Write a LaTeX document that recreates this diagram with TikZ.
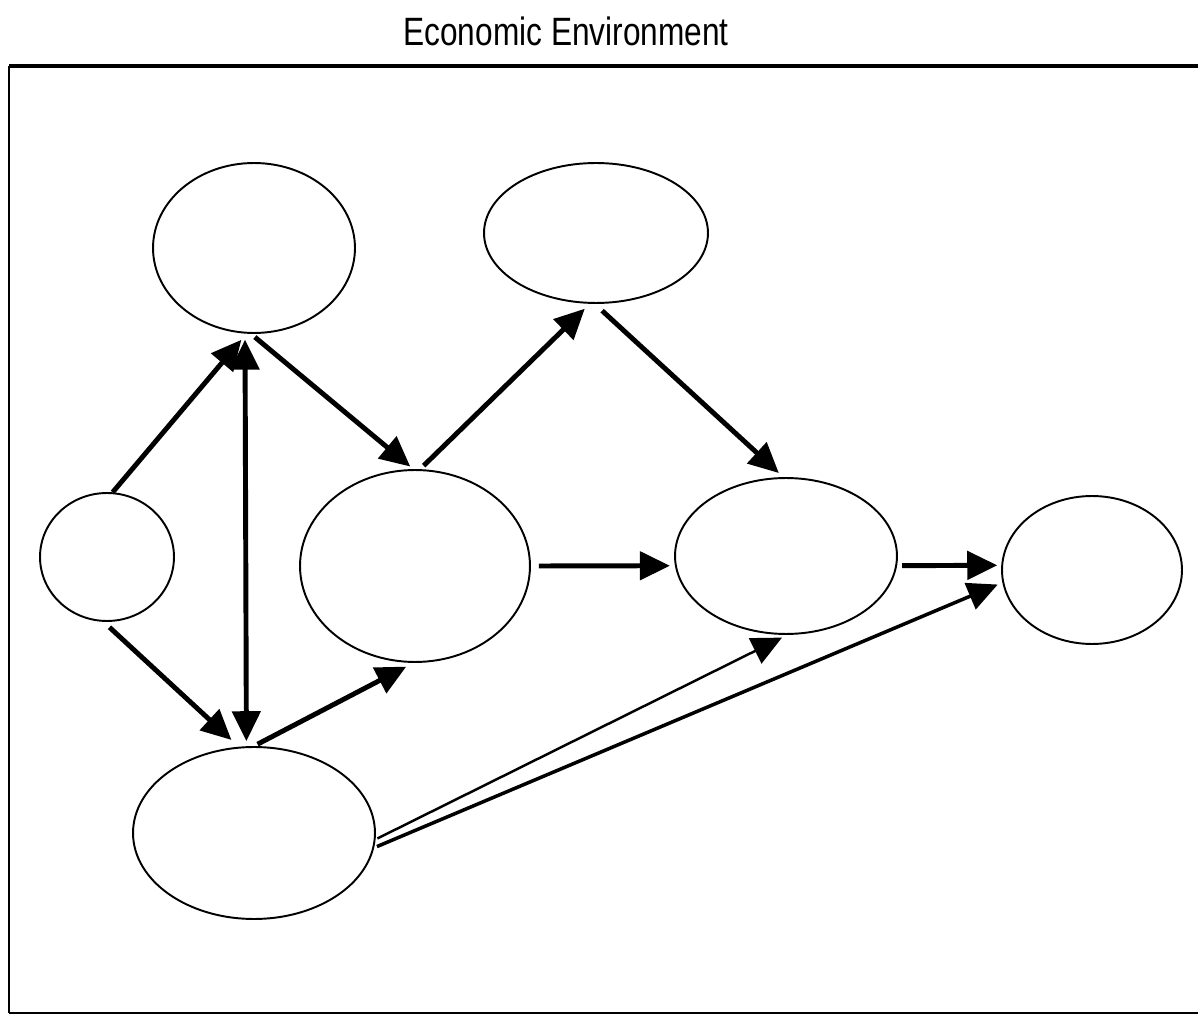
\documentclass[tikz,border=0pt]{standalone}
\usepackage{fontspec}
\setmainfont{Liberation Sans}
\newfontfamily\titlefont[FakeStretch=0.8]{Liberation Sans}
\usepackage{tikz}
\usetikzlibrary{arrows.meta,shapes.geometric}
\tikzset{
    ellnode/.style={draw, ellipse, line width=1.1pt, inner sep=0pt},
    flowarrow/.style={-{Triangle[length=0.6cm,width=0.56cm]}, line width=2.8pt},
    twowayarrow/.style={{Triangle[length=0.6cm,width=0.56cm]}-{Triangle[length=0.6cm,width=0.56cm]}, line width=2.8pt},
    thinarrow/.style={flowarrow, line width=1.4pt},
    midarrow/.style={flowarrow, line width=2pt},
    titletext/.style={font=\titlefont\fontsize{22.5}{26}\selectfont}
}

\begin{document}
\begin{tikzpicture}[x=0.02cm, y=-0.02cm]
        \useasboundingbox (0,0) rectangle (1198,1030);
        \node[titletext] (title) at (566,31) {Economic Environment};
        \draw[line width=2.3pt] (9,66) -- (1198,66);
        \draw[line width=1pt] (9,66) -- (9,1013);
        \draw[line width=1.4pt] (9,1013) -- (1198,1013);
        \node[ellnode, minimum width=4.04cm, minimum height=3.4cm] (topleft) at (254,248) {};
        \node[ellnode, minimum width=4.48cm, minimum height=2.8cm] (topmid) at (596,233) {};
        \node[ellnode, minimum width=2.68cm, minimum height=2.56cm] (small) at (107,557) {};
        \node[ellnode, minimum width=4.6cm, minimum height=3.84cm] (centre) at (415,566) {};
        \node[ellnode, minimum width=4.44cm, minimum height=3.12cm] (rightmid) at (786,556) {};
        \node[ellnode, minimum width=3.6cm, minimum height=2.96cm] (farright) at (1092,570) {};
        \node[ellnode, minimum width=4.84cm, minimum height=3.44cm] (bottom) at (254,833) {};
        \draw[flowarrow, shorten >=0.16cm] (small.85) -- (topleft.265);
        \draw[twowayarrow, shorten <=0.12cm, shorten >=0.1cm] (topleft.264.4) -- (bottom.95.6);
        \draw[flowarrow, shorten <=0.1cm, shorten >=0.08cm] (topleft.268) -- (centre.91);
        \draw[flowarrow, shorten <=0.1cm, shorten >=0.14cm] (centre.87) -- (topmid.265);
        \draw[flowarrow, shorten <=0.2cm, shorten >=0.12cm] (topmid.269) -- (rightmid.92);
        \draw[flowarrow, shorten <=0.16cm, shorten >=0.1cm] (centre.0) -- (rightmid.185);
        \draw[flowarrow, shorten <=0.1cm, shorten >=0.08cm] (rightmid.355) -- (farright.177);
        \draw[flowarrow, shorten <=0.16cm, shorten >=0.2cm] (small.267) -- (bottom.100);
        \draw[flowarrow, shorten <=0.08cm, shorten >=0.16cm] (bottom.90) -- (centre.269);
        \draw[thinarrow, shorten <=0.04cm, shorten >=0.12cm] (bottom.357) -- (rightmid.271);
        \draw[midarrow, shorten <=0.06cm, shorten >=0.1cm] (bottom.353) -- (farright.188);
    \end{tikzpicture}
\end{document}
